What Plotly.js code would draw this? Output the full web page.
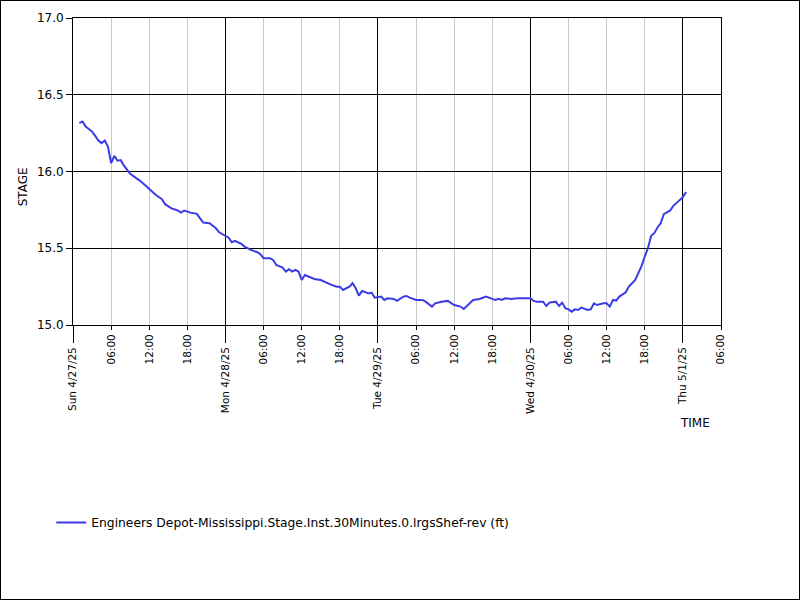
<!DOCTYPE html>
<html>
<head>
<meta charset="utf-8">
<script src="https://cdn.plot.ly/plotly-3.0.1.min.js"></script>
<style>
  html, body { margin: 0; padding: 0; background: #fff; }
  #frame { width: 798px; height: 598px; border: 1px solid #000; }
  #chart { width: 798px; height: 598px; }
</style>
</head>
<body>
<div id="frame"><div id="chart"></div></div>
<script>
// Hours after Sun 4/27/25 00:00 for each reading
const hoursFromStart = [
  1.0, 1.5, 2.0, 3.0, 3.5, 4.0, 4.5, 5.0, 5.5, 6.0, 6.5, 7.0, 7.5, 8.0, 9.0, 9.5, 10.5, 11.5, 12.0,
  13.0, 14.0, 14.5, 15.5, 16.5, 17.0, 17.5, 18.5, 19.5, 20.0, 20.5, 21.5, 22.5, 23.0, 24.0,
  24.5, 25.0, 25.5, 26.5, 27.0, 28.0, 29.0, 29.5, 30.0, 31.0, 31.5, 32.0, 33.0, 33.5, 34.0, 34.5,
  35.0, 35.5, 36.0, 36.5, 37.5, 38.0, 39.0, 40.0, 40.5, 41.5, 42.0, 42.5, 43.5, 44.0, 44.5, 45.0,
  45.5, 46.5, 47.0, 47.5, 48.0, 48.5,
  49.0, 49.5, 50.5, 51.0, 52.0, 52.5, 53.0, 54.0, 55.0, 55.5, 56.5, 57.0, 58.0, 59.0, 60.0, 61.0,
  61.5, 62.5, 63.0, 64.0, 65.0, 66.0, 66.5, 67.0, 67.5, 68.0, 69.0, 70.0, 71.0, 71.5, 72.0, 72.5,
  73.0, 74.0, 74.5, 75.0, 76.0, 76.5, 77.0, 77.5, 78.0, 78.5, 79.0, 79.5, 80.0, 81.0, 81.5, 82.0,
  82.5, 83.5, 84.0, 84.5, 85.0, 85.5, 86.0, 87.0, 87.5, 88.5, 89.0, 89.5, 90.0, 90.5, 91.0, 91.5,
  92.0, 92.5, 93.0, 94.0, 94.5, 95.0, 96.0, 96.5
];
// Stage (ft)
const stageValues = [
  16.315, 16.326, 16.293, 16.260, 16.232, 16.202, 16.185, 16.202, 16.163, 16.054, 16.102, 16.070, 16.074, 16.040, 15.985, 15.972, 15.941, 15.906, 15.885,
  15.848, 15.820, 15.787, 15.760, 15.746, 15.732, 15.746, 15.732, 15.724, 15.695, 15.667, 15.663, 15.630, 15.604, 15.580,
  15.569, 15.539, 15.548, 15.528, 15.511, 15.489, 15.474, 15.461, 15.435, 15.435, 15.424, 15.391, 15.374, 15.348, 15.363, 15.348,
  15.359, 15.348, 15.293, 15.326, 15.311, 15.300, 15.293, 15.272, 15.265, 15.250, 15.250, 15.228, 15.250, 15.272, 15.239, 15.191,
  15.222, 15.206, 15.211, 15.178, 15.180, 15.185,
  15.163, 15.174, 15.170, 15.157, 15.185, 15.189, 15.178, 15.163, 15.163, 15.152, 15.120, 15.141, 15.152, 15.157, 15.130, 15.120,
  15.104, 15.141, 15.163, 15.170, 15.185, 15.170, 15.163, 15.170, 15.163, 15.174, 15.170, 15.174, 15.174, 15.170, 15.174, 15.157,
  15.152, 15.152, 15.124, 15.146, 15.152, 15.124, 15.146, 15.109, 15.102, 15.087, 15.102, 15.098, 15.113, 15.098, 15.102, 15.141,
  15.130, 15.141, 15.141, 15.120, 15.163, 15.159, 15.185, 15.213, 15.250, 15.294, 15.337, 15.385, 15.446, 15.500, 15.581, 15.598,
  15.635, 15.663, 15.722, 15.746, 15.776, 15.794, 15.833, 15.866
];
const seriesName = 'Engineers Depot-Mississippi.Stage.Inst.30Minutes.0.lrgsShef-rev (ft)';

const dayTickValues = ['2025-04-27 00:00', '2025-04-28 00:00', '2025-04-29 00:00', '2025-04-30 00:00', '2025-05-01 00:00'];
const dayTickLabels = ['Sun 4/27/25', 'Mon 4/28/25', 'Tue 4/29/25', 'Wed 4/30/25', 'Thu 5/1/25'];
const hourTickValues = [
  '2025-04-27 06:00', '2025-04-27 12:00', '2025-04-27 18:00',
  '2025-04-28 06:00', '2025-04-28 12:00', '2025-04-28 18:00',
  '2025-04-29 06:00', '2025-04-29 12:00', '2025-04-29 18:00',
  '2025-04-30 06:00', '2025-04-30 12:00', '2025-04-30 18:00',
  '2025-05-01 06:00'
];
const hourTickLabels = ['06:00', '12:00', '18:00', '06:00', '12:00', '18:00', '06:00', '12:00', '18:00', '06:00', '12:00', '18:00', '06:00'];
const xRange = ['2025-04-27 00:00', '2025-05-01 06:00'];

function toTime(h) {
  const d = new Date(Date.UTC(2025, 3, 27) + h * 3600000);
  return d.toISOString().slice(0, 16).replace('T', ' ');
}
const times = hoursFromStart.map(toTime);

const FONT = 'DejaVu Sans, Verdana, sans-serif';

const trace = {
  x: times, y: stageValues, type: 'scatter', mode: 'lines', name: seriesName,
  line: { color: '#3b3be6', width: 2 }, showlegend: true
};
// Empty trace that only activates the day-level axis (no visible marks)
const dayAxisTrace = {
  x: dayTickValues, y: dayTickValues.map(() => null), xaxis: 'x2', yaxis: 'y',
  type: 'scatter', mode: 'lines', showlegend: false, hoverinfo: 'skip'
};

const layout = {
  width: 798, height: 598,
  margin: { l: 72, r: 78, t: 17, b: 274 },
  paper_bgcolor: '#fff', plot_bgcolor: '#fff',
  font: { family: FONT, size: 11, color: '#000' },
  showlegend: true,
  legend: {
    xref: 'container', yref: 'container', x: 0.063, y: 0.128,
    xanchor: 'left', yanchor: 'middle', orientation: 'h',
    font: { family: FONT, size: 12.3, color: '#000' }, bgcolor: 'rgba(0,0,0,0)'
  },
  xaxis: {
    type: 'date', range: xRange, tickmode: 'array',
    tickvals: hourTickValues, ticktext: hourTickLabels, tickangle: -90,
    ticks: 'outside', ticklen: 4, tickcolor: '#000', tickwidth: 1,
    showgrid: true, gridcolor: '#c8c8c8', gridwidth: 1,
    showline: true, linecolor: '#000', linewidth: 1, mirror: true,
    zeroline: false, tickfont: { family: FONT, size: 10.5, color: '#000' }
  },
  xaxis2: {
    type: 'date', range: xRange, overlaying: 'x', anchor: 'y', side: 'bottom',
    tickmode: 'array', tickvals: dayTickValues, ticktext: dayTickLabels, tickangle: -90,
    ticks: 'outside', ticklen: 17, tickcolor: '#000', tickwidth: 1,
    showgrid: true, gridcolor: '#000', gridwidth: 1,
    showline: false, zeroline: false,
    tickfont: { family: FONT, size: 10.5, color: '#000' }
  },
  yaxis: {
    range: [15, 17], tickmode: 'linear', tick0: 15, dtick: 0.5, tickformat: '.1f',
    ticks: 'outside', ticklen: 6, tickcolor: '#000',
    showgrid: true, gridcolor: '#000', gridwidth: 1,
    showline: true, linecolor: '#000', linewidth: 1, mirror: true,
    zeroline: false, tickfont: { family: FONT, size: 12, color: '#000' }
  },
  annotations: [
    { text: 'STAGE', xref: 'paper', yref: 'paper', x: -0.078, y: 0.45, textangle: -90,
      showarrow: false, font: { family: FONT, size: 12, color: '#000' }, xanchor: 'center', yanchor: 'middle' },
    { text: 'TIME', xref: 'paper', yref: 'paper', x: 0.96, y: -0.32,
      showarrow: false, font: { family: FONT, size: 12, color: '#000' }, xanchor: 'center', yanchor: 'middle' }
  ]
};

Plotly.newPlot('chart', [trace, dayAxisTrace], layout, { staticPlot: true, displayModeBar: false });
</script>
</body>
</html>
